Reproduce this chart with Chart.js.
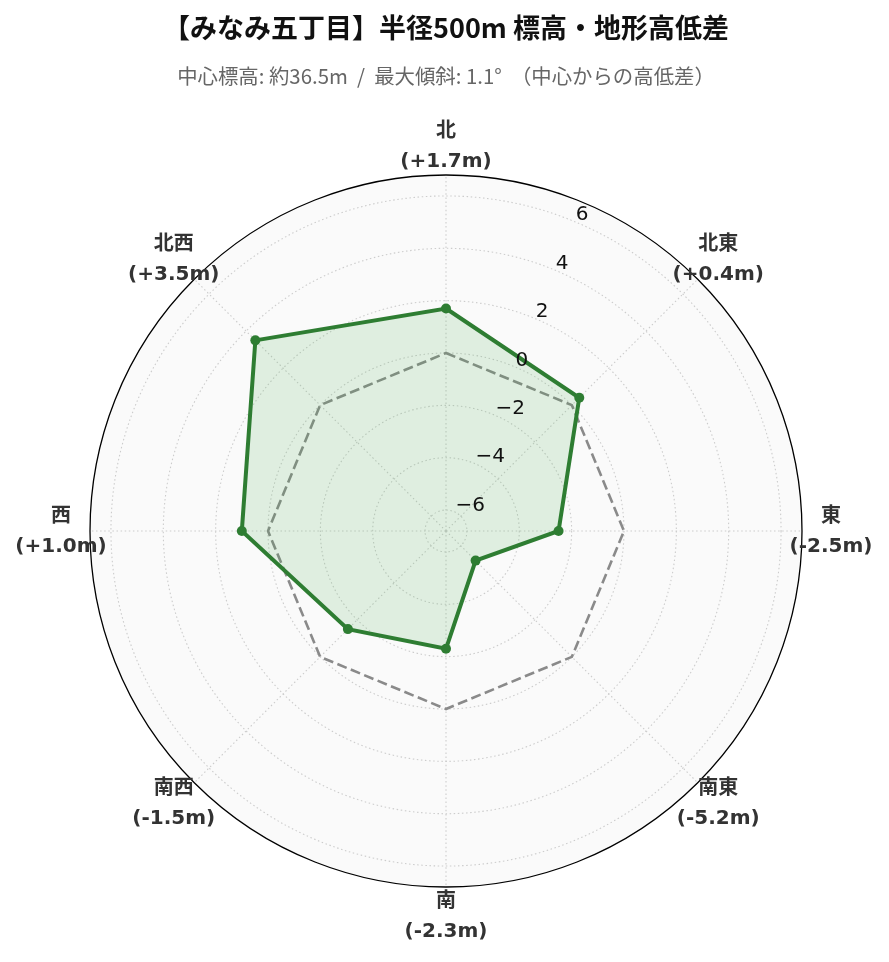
<!DOCTYPE html>
<html>
<head>
<meta charset="utf-8">
<script src="https://cdn.jsdelivr.net/npm/chart.js@4.4.1/dist/chart.umd.min.js"></script>
<style>
html,body{margin:0;padding:0;background:#ffffff;}
#wrap{width:889px;height:962px;position:relative;}
</style>
</head>
<body>
<div id="wrap"><canvas id="c"></canvas></div>
<script>
// ---- data ----
const directions = ['北', '北東', '東', '南東', '南', '南西', '西', '北西'];
const elevationDiff = [1.7, 0.4, -2.5, -5.2, -2.3, -1.5, 1.0, 3.5];
const zeroReference = [0, 0, 0, 0, 0, 0, 0, 0];
const radialTicks = [-6, -4, -2, 0, 2, 4, 6];
const radialMin = -6.8;
const radialMax = 6.8;
const titleText = '【みなみ五丁目】半径500m 標高・地形高低差';
const subtitleText = '中心標高: 約36.5m  /  最大傾斜: 1.1°  （中心からの高低差）';

const LATIN_CJK = '"DejaVu Sans", "Noto Sans CJK JP", sans-serif';
const CJK = '"Noto Sans CJK JP", "DejaVu Sans", sans-serif';

function diffLabel(v) {
  return '(' + (v >= 0 ? '+' : '-') + Math.abs(v).toFixed(1) + 'm)';
}
function tickLabel(v) {
  return (v < 0 ? '\u2212' : '') + Math.abs(v);
}

const polarDecor = {
  id: 'polarDecor',
  beforeDatasetsDraw(chart) {
    const s = chart.scales.r;
    const ctx = chart.ctx;
    ctx.save();
    ctx.beginPath();
    ctx.arc(s.xCenter, s.yCenter, s.getDistanceFromCenterForValue(s.max), 0, Math.PI * 2);
    ctx.strokeStyle = '#000000';
    ctx.lineWidth = 1.3;
    ctx.stroke();
    ctx.restore();
  },
  afterDatasetsDraw(chart) {
    const s = chart.scales.r;
    const ctx = chart.ctx;
    ctx.save();
    // radial tick labels at 22.5deg clockwise from north
    const a = 22.5 * Math.PI / 180;
    ctx.font = '20px "DejaVu Sans", sans-serif';
    ctx.fillStyle = '#111111';
    ctx.textAlign = 'left';
    ctx.textBaseline = 'alphabetic';
    radialTicks.forEach(v => {
      const d = s.getDistanceFromCenterForValue(v);
      const x = s.xCenter + d * Math.sin(a);
      const y = s.yCenter - d * Math.cos(a);
      ctx.fillText(tickLabel(v), x + 1.5, y - 1);
    });
    // direction labels
    ctx.font = 'bold 20px ' + LATIN_CJK;
    ctx.fillStyle = '#333333';
    ctx.textAlign = 'center';
    ctx.textBaseline = 'middle';
    const dist = s.drawingArea + 29;
    directions.forEach((d, i) => {
      const p = s.getPointPosition(i, dist);
      ctx.fillText(d, p.x, p.y - 14);
      ctx.fillText(diffLabel(elevationDiff[i]), p.x, p.y + 16);
    });
    ctx.restore();
  }
};

new Chart(document.getElementById('c'), {
  type: 'radar',
  data: {
    labels: directions,
    datasets: [
      {
        label: '高低差',
        data: elevationDiff,
        borderColor: '#2e7d32',
        backgroundColor: 'rgba(76,175,80,0.15)',
        borderWidth: 4,
        fill: 'start',
        pointRadius: 5,
        pointHoverRadius: 5,
        pointBackgroundColor: '#2e7d32',
        pointBorderColor: '#2e7d32',
        pointBorderWidth: 0,
        tension: 0,
        order: 1
      },
      {
        label: '基準 0m',
        data: zeroReference,
        borderColor: '#8a8a8a',
        borderWidth: 2.6,
        borderDash: [10, 4.5],
        fill: false,
        pointRadius: 0,
        pointHoverRadius: 0,
        tension: 0,
        order: 2
      }
    ]
  },
  options: {
    responsive: true,
    maintainAspectRatio: false,
    animation: false,
    events: [],
    layout: { padding: { left: 90, right: 87, top: 0, bottom: 75 } },
    plugins: {
      legend: { display: false },
      tooltip: { enabled: false },
      title: {
        display: true,
        text: titleText,
        color: '#111111',
        font: { family: CJK, size: 27, weight: 'bold', lineHeight: 1.2 },
        padding: { top: 12, bottom: 10 }
      },
      subtitle: {
        display: true,
        text: subtitleText,
        color: '#666666',
        font: { family: CJK, size: 20.4, weight: 'normal', lineHeight: 1.2 },
        padding: { top: 9.8, bottom: 86.32 }
      }
    },
    scales: {
      r: {
        min: radialMin,
        max: radialMax,
        startAngle: 0,
        backgroundColor: '#fafafa',
        afterBuildTicks: (scale) => { scale.ticks = radialTicks.map(v => ({ value: v })); },
        ticks: { display: false },
        pointLabels: { display: false },
        grid: { circular: true, color: '#cccccc', lineWidth: 1.1 },
        border: { dash: [1.5, 2.6] },
        angleLines: { display: true, color: '#cccccc', lineWidth: 1.1, borderDash: [1.5, 2.6] }
      }
    }
  },
  plugins: [polarDecor]
});
</script>
</body>
</html>
